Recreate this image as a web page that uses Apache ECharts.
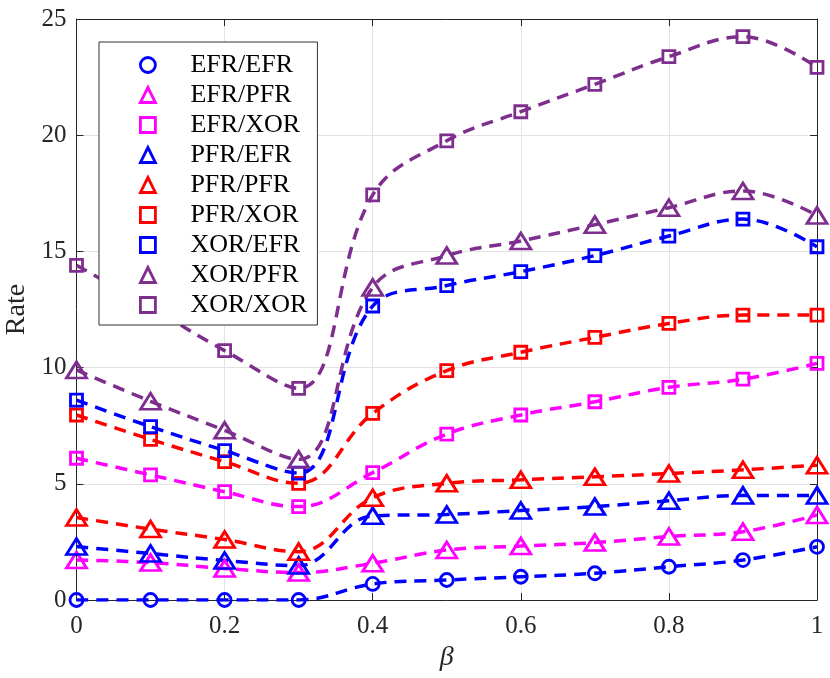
<!DOCTYPE html>
<html>
<head>
<meta charset="utf-8">
<script src="https://cdn.jsdelivr.net/npm/echarts@6/dist/echarts.min.js"></script>
<style>
  html, body { margin: 0; padding: 0; background: #fff; }
  #chart { width: 830px; height: 678px; }
</style>
</head>
<body>
<div id="chart"></div>
<script>
// beta values on the x axis
var betas = [0, 0.1, 0.2, 0.3, 0.4, 0.5, 0.6, 0.7, 0.8, 0.9, 1];

var efrEfr = [0, 0, 0, 0, 0.69, 0.86, 1.0, 1.15, 1.43, 1.72, 2.29];
var efrPfr = [1.72, 1.61, 1.36, 1.18, 1.58, 2.15, 2.32, 2.47, 2.73, 2.94, 3.66];
var efrXor = [6.1, 5.38, 4.66, 4.02, 5.48, 7.14, 7.96, 8.53, 9.15, 9.5, 10.18];
var pfrEfr = [2.3, 2.0, 1.7, 1.48, 3.62, 3.68, 3.85, 4.02, 4.27, 4.5, 4.5];
var pfrPfr = [3.55, 3.05, 2.6, 2.08, 4.4, 5.02, 5.17, 5.3, 5.44, 5.6, 5.8];
var pfrXor = [7.96, 6.91, 5.95, 5.02, 8.03, 9.87, 10.66, 11.3, 11.9, 12.26, 12.26];
var xorEfr = [8.6, 7.46, 6.43, 5.46, 12.65, 13.53, 14.13, 14.82, 15.66, 16.39, 15.2];
var xorPfr = [9.9, 8.55, 7.3, 6.05, 13.45, 14.82, 15.45, 16.15, 16.88, 17.6, 16.55];
var xorXor = [14.4, 12.6, 10.73, 9.11, 17.43, 19.76, 21.01, 22.19, 23.38, 24.24, 22.92];

var names = ['EFR/EFR', 'EFR/PFR', 'EFR/XOR', 'PFR/EFR', 'PFR/PFR', 'PFR/XOR', 'XOR/EFR', 'XOR/PFR', 'XOR/XOR'];
var values = [efrEfr, efrPfr, efrXor, pfrEfr, pfrPfr, pfrXor, xorEfr, xorPfr, xorXor];
var colors = ['#0000ff', '#ff00ff', '#ff00ff', '#0000ff', '#ff0000', '#ff0000', '#0000ff', '#7e2f8e', '#7e2f8e'];
var shapes = ['circle', 'triangle', 'rect', 'triangle', 'triangle', 'rect', 'rect', 'triangle', 'rect'];

var yTicks = { min: 0, max: 25, step: 5 };

var font = '"Liberation Serif", "Times New Roman", serif';

function symSize(shape) {
    if (shape === 'triangle') return [20, 16];
    if (shape === 'rect') return 12;
    return 13;
}

var series = names.map(function (name, i) {
    return {
        name: name,
        type: 'line',
        smooth: 0.4,
        data: betas.map(function (b, j) { return [b, values[i][j]]; }),
        symbol: shapes[i],
        symbolSize: symSize(shapes[i]),
        showSymbol: true,
        lineStyle: { color: colors[i], width: 3.5, type: [12, 8] },
        itemStyle: { color: 'rgba(0,0,0,0)', borderColor: colors[i], borderWidth: 2.8 },
        emphasis: { disabled: true },
        animation: false
    };
});

var legendData = names.map(function (name, i) {
    return {
        name: name,
        icon: shapes[i],
        itemStyle: { color: 'rgba(0,0,0,0)', borderColor: colors[i], borderWidth: 2.8 }
    };
});

var myChart = echarts.init(document.getElementById('chart'));
var option = {
    backgroundColor: '#fff',
    textStyle: { fontFamily: font },
    grid: { left: 76.5, right: 13, top: 19, bottom: 78, outerBoundsMode: 'none', containLabel: false },
    legend: {
        data: legendData,
        orient: 'vertical',
        left: 99,
        top: 42,
        itemWidth: 15,
        itemHeight: 15,
        itemGap: 4,
        padding: [10, 10, 7, 40],
        backgroundColor: '#fff',
        borderColor: '#333',
        borderWidth: 1,
        borderRadius: 0,
        selectedMode: false,
        textStyle: { fontFamily: font, fontSize: 26, color: '#000', padding: [0, 0, 0, 30] }
    },
    xAxis: [
        {
            type: 'value',
            min: 0,
            max: 1,
            interval: 0.2,
            name: 'β',
            nameLocation: 'middle',
            nameGap: 44,
            nameTextStyle: { fontFamily: font, fontSize: 28, fontStyle: 'italic', color: '#262626' },
            axisLine: { show: true, onZero: false, lineStyle: { color: '#262626', width: 1 } },
            axisTick: { show: true, inside: true, length: 7, lineStyle: { color: '#262626' } },
            axisLabel: { fontFamily: font, fontSize: 25, color: '#262626', margin: 14 },
            splitLine: { show: true, lineStyle: { color: '#e3e3e3', width: 1 } }
        },
        {
            type: 'value',
            position: 'top',
            min: 0,
            max: 1,
            interval: 0.2,
            axisLine: { show: true, onZero: false, lineStyle: { color: '#262626', width: 1 } },
            axisTick: { show: true, inside: true, length: 7, lineStyle: { color: '#262626' } },
            axisLabel: { show: false },
            splitLine: { show: false }
        }
    ],
    yAxis: [
        {
            type: 'value',
            min: yTicks.min,
            max: yTicks.max,
            interval: yTicks.step,
            name: 'Rate',
            nameLocation: 'middle',
            nameGap: 42,
            nameRotate: 90,
            nameTextStyle: { fontFamily: font, fontSize: 28, color: '#262626' },
            axisLine: { show: true, onZero: false, lineStyle: { color: '#262626', width: 1 } },
            axisTick: { show: true, inside: true, length: 7, lineStyle: { color: '#262626' } },
            axisLabel: { fontFamily: font, fontSize: 25, color: '#262626', margin: 10 },
            splitLine: { show: true, lineStyle: { color: '#e3e3e3', width: 1 } }
        },
        {
            type: 'value',
            position: 'right',
            min: yTicks.min,
            max: yTicks.max,
            interval: yTicks.step,
            axisLine: { show: true, onZero: false, lineStyle: { color: '#262626', width: 1 } },
            axisTick: { show: true, inside: true, length: 7, lineStyle: { color: '#262626' } },
            axisLabel: { show: false },
            splitLine: { show: false }
        }
    ],
    series: series
};

option && myChart.setOption(option);
</script>
</body>
</html>
